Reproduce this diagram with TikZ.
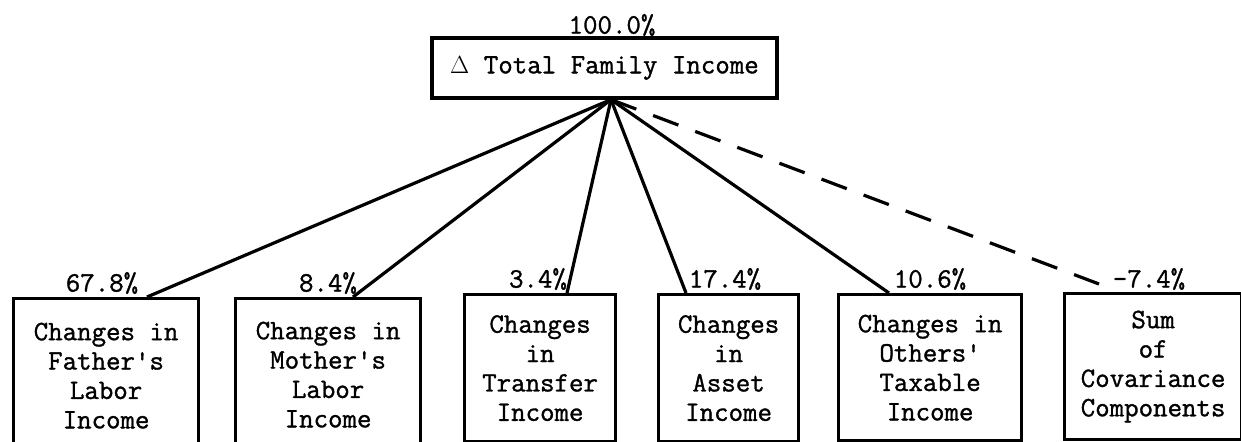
\documentclass[tikz,border=0pt]{standalone}
\usepackage{fontspec}
\newfontfamily\tw[FakeBold=1.2]{Latin Modern Mono}
\begin{document}
\begin{tikzpicture}[x=1bp,y=-1bp,
  every node/.style={font=\tw\fontsize{28.2}{29.5}\selectfont, inner sep=0pt},
  box/.style={draw, line width=3.2bp, align=center, anchor=north west},
  link/.style={line width=3.2bp},
  covlink/.style={line width=3.2bp, dash pattern=on 27bp off 18bp}]
\clip (0,0) rectangle (1241,442);

% top box
\node[box, anchor=center, minimum width=345bp, minimum height=60bp] (total) at (604.5,68) {$\Delta$ Total Family Income};
\node (p100) at (612,25) {100.0\%};

% component boxes
\node[box, minimum width=185bp, minimum height=154bp] (father) at (12,297)
  {Changes in\\Father\textquotesingle s\\Labor\\Income};
\node[box, minimum width=185bp, minimum height=152bp] (mother) at (234,297)
  {Changes in\\Mother\textquotesingle s\\Labor\\Income};
\node[box, minimum width=151bp, minimum height=147bp] (transfer) at (463,293)
  {Changes\\in\\Transfer\\Income};
\node[box, minimum width=140bp, minimum height=147bp] (asset) at (657,293)
  {Changes\\in\\Asset\\Income};
\node[box, minimum width=183bp, minimum height=146bp] (others) at (837,293)
  {Changes in\\Others\textquotesingle\\Taxable\\Income};
\node[box, minimum width=177bp, minimum height=146bp] (sum) at (1063,292)
  {Sum\\of\\Covariance\\Components};

% shares
\node (p678) at (102,283) {67.8\%};
\node (p84)  at (328,283) {8.4\%};
\node (p34)  at (538,279) {3.4\%};
\node (p174) at (725,279) {17.4\%};
\node (p106) at (930,279) {10.6\%};
\node (p74)  at (1149,279) {-7.4\%};

% connectors
\coordinate (apex) at ([xshift=6.5bp]total.south);
\coordinate (fatherTop)   at ([xshift=135bp]father.north west);
\coordinate (motherTop)   at ([xshift=119bp]mother.north west);
\coordinate (transferTop) at ([xshift=104bp]transfer.north west);
\coordinate (assetTop)    at ([xshift=29bp]asset.north west);
\coordinate (othersTop)   at ([xshift=52bp]others.north west);
\coordinate (covEnd)      at ([xshift=36bp,yshift=8bp]sum.north west);

\draw[link] (apex) -- (fatherTop);
\draw[link] (apex) -- (motherTop);
\draw[link] (apex) -- (transferTop);
\draw[link] (apex) -- (assetTop);
\draw[link] (apex) -- (othersTop);
\draw[covlink] (apex) -- (covEnd);
\end{tikzpicture}
\end{document}
